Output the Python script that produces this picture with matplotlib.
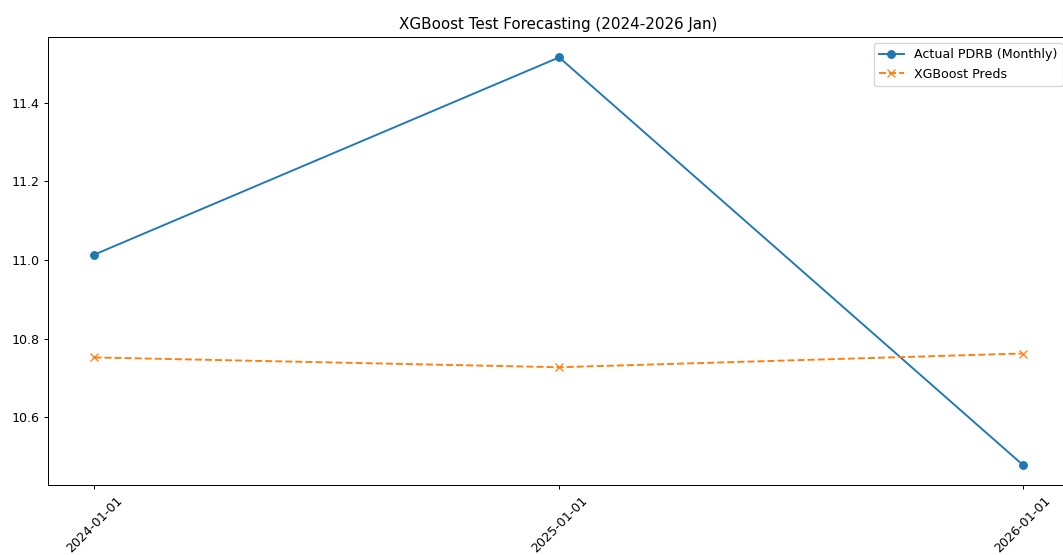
import pandas as pd
import matplotlib
matplotlib.use("Agg")
import matplotlib.pyplot as plt
import matplotlib.dates as mdates

# test period (yearly January points)
dates = pd.to_datetime(["2024-01-01", "2025-01-01", "2026-01-01"])
actual = [11.014, 11.516, 10.479]
preds = [10.752, 10.727, 10.762]

# reference looks like a slightly downscaled export, so render at dpi 91
DPI = 91
fig = plt.figure(figsize=(1063 / DPI, 555 / DPI), dpi=DPI)
# axes run slightly past the right edge, as in the cropped original
ax = fig.add_axes([0.0452, 0.1261, 0.9604, 0.8072])

ax.plot(dates, actual, marker='o', label='Actual PDRB (Monthly)')
ax.plot(dates, preds, marker='x', linestyle='--', label='XGBoost Preds')

ax.set_xticks(dates)
ax.xaxis.set_major_formatter(mdates.DateFormatter('%Y-%m-%d'))
plt.setp(ax.get_xticklabels(), rotation=45)
ax.set_yticks([10.6, 10.8, 11.0, 11.2, 11.4])

ax.set_title('XGBoost Test Forecasting (2024-2026 Jan)')
ax.legend(loc='upper right')

fig.savefig("out.png", dpi=DPI)
